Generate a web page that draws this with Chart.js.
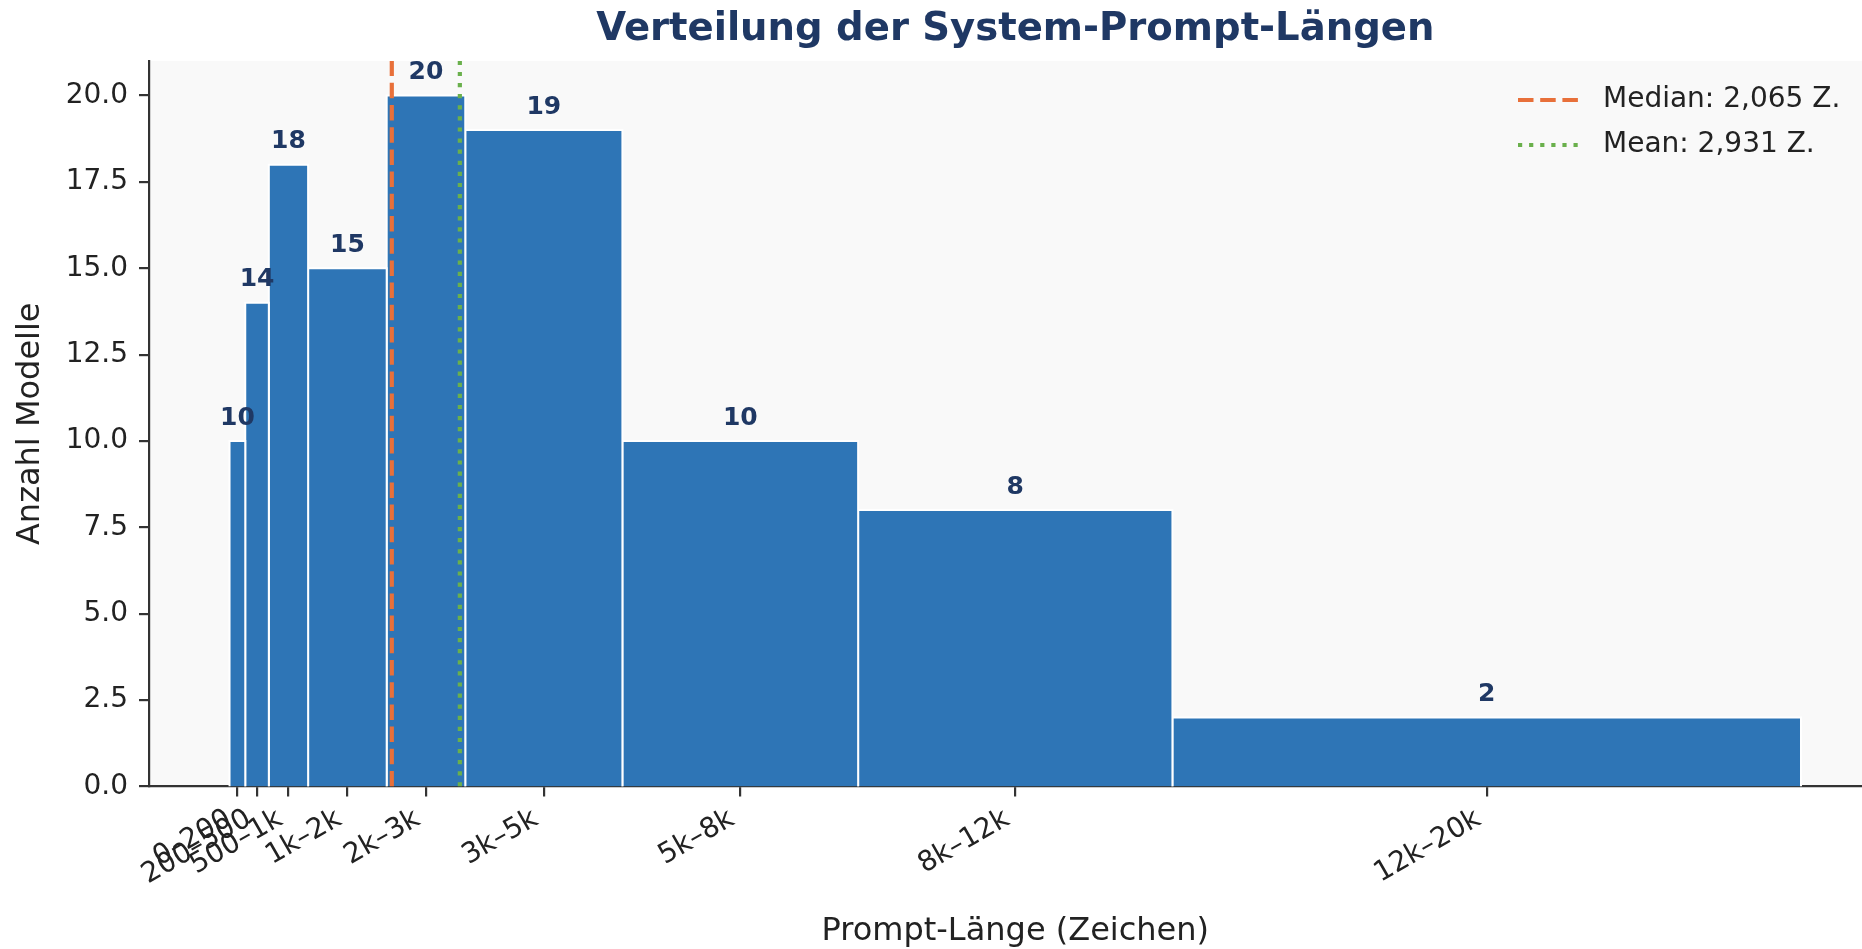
<!DOCTYPE html>
<html>
<head>
<meta charset="utf-8">
<title>Verteilung der System-Prompt-Längen</title>
<script src="https://cdn.jsdelivr.net/npm/chart.js@4.4.1/dist/chart.umd.min.js"></script>
<style>
    html, body { margin: 0; padding: 0; background: #fff; overflow: hidden; }
    #wrap { width: 1862px; height: 949px; position: relative; }
</style>
</head>
<body>
<div id="wrap"><canvas id="hist"></canvas></div>
<script>
// Histogram data (bins in characters)
const binEdges = [0, 200, 500, 1000, 2000, 3000, 5000, 8000, 12000, 20000];
const binLabels = ['0–200', '200–500', '500–1k', '1k–2k', '2k–3k', '3k–5k', '5k–8k', '8k–12k', '12k–20k'];
const counts = [10, 14, 18, 15, 20, 19, 10, 8, 2];
const yTickValues = [0, 2.5, 5, 7.5, 10, 12.5, 15, 17.5, 20];
const medianLen = 2065;
const meanLen = 2931;
const refLabels = ['Median: 2,065 Z.', 'Mean: 2,931 Z.'];

const colors = {
    bar: '#2e75b6',
    navy: '#1f3864',
    median: '#e8703a',
    mean: '#6ab04c',
    plotBg: '#f9f9f9',
    axis: '#333333',
    text: '#222222'
};

const fontFamily = "'DejaVu Sans', sans-serif";
Chart.defaults.font.family = fontFamily;

// one filled step shape per bin, so bins can have different widths
const barDatasets = counts.map((c, i) => ({
    type: 'line',
    label: binLabels[i],
    data: [
        { x: binEdges[i], y: 0 },
        { x: binEdges[i], y: c },
        { x: binEdges[i + 1], y: c },
        { x: binEdges[i + 1], y: 0 }
    ],
    fill: 'origin',
    backgroundColor: colors.bar,
    borderColor: '#ffffff',
    borderWidth: 2,
    pointRadius: 0,
    tension: 0,
    order: 2
}));

const medianDataset = {
    type: 'line',
    label: refLabels[0],
    data: [{ x: medianLen, y: 0 }, { x: medianLen, y: 21 }],
    borderColor: colors.median,
    borderWidth: 4.2,
    borderDash: [15.5, 6.7],
    borderCapStyle: 'butt',
    pointRadius: 0,
    fill: false,
    order: 0
};

const meanDataset = {
    type: 'line',
    label: refLabels[1],
    data: [{ x: meanLen, y: 0 }, { x: meanLen, y: 21 }],
    borderColor: colors.mean,
    borderWidth: 4.2,
    borderDash: [4.2, 6.9],
    borderCapStyle: 'butt',
    pointRadius: 0,
    fill: false,
    order: 0
};

// plot background, count labels, title, x label and legend
const decorPlugin = {
    id: 'decor',
    beforeDraw(chart) {
        const { ctx, chartArea: a } = chart;
        ctx.save();
        ctx.fillStyle = colors.plotBg;
        ctx.fillRect(a.left, a.top, a.right - a.left, a.bottom - a.top);
        ctx.restore();
    },
    afterDatasetsDraw(chart) {
        const { ctx } = chart;
        const xs = chart.scales.x, ys = chart.scales.y;
        ctx.save();
        ctx.fillStyle = colors.navy;
        ctx.font = 'bold 25px ' + fontFamily;
        ctx.textAlign = 'center';
        ctx.textBaseline = 'alphabetic';
        counts.forEach((c, i) => {
            const mid = (binEdges[i] + binEdges[i + 1]) / 2;
            ctx.fillText(String(c), xs.getPixelForValue(mid), ys.getPixelForValue(c) - 16.5);
        });
        ctx.restore();
    },
    afterDraw(chart) {
        const { ctx, chartArea: a } = chart;
        const xs = chart.scales.x;
        const cx = xs.getPixelForValue(10000);
        ctx.save();
        // title
        ctx.fillStyle = colors.navy;
        ctx.font = 'bold 38.6px ' + fontFamily;
        ctx.textAlign = 'center';
        ctx.textBaseline = 'alphabetic';
        ctx.fillText('Verteilung der System-Prompt-Längen', cx, 40);
        // x axis label
        ctx.fillStyle = colors.text;
        ctx.font = '32px ' + fontFamily;
        ctx.fillText('Prompt-Länge (Zeichen)', cx, 940);
        // legend
        const items = [
            { label: refLabels[0], color: colors.median, dash: [15.5, 6.7] },
            { label: refLabels[1], color: colors.mean, dash: [4.2, 6.9] }
        ];
        items.forEach((it, i) => {
            const y = a.top + 39 + i * 45;
            ctx.strokeStyle = it.color;
            ctx.lineWidth = 4.2;
            ctx.lineCap = 'butt';
            ctx.setLineDash(it.dash);
            ctx.beginPath();
            ctx.moveTo(a.right - 344, y);
            ctx.lineTo(a.right - 284, y);
            ctx.stroke();
            ctx.setLineDash([]);
            ctx.fillStyle = colors.text;
            ctx.font = '28px ' + fontFamily;
            ctx.textAlign = 'left';
            ctx.textBaseline = 'middle';
            ctx.fillText(it.label, a.right - 259, y);
        });
        ctx.restore();
    }
};

const ctx = document.getElementById('hist');
new Chart(ctx, {
    type: 'line',
    data: {
        datasets: [medianDataset, meanDataset].concat(barDatasets)
    },
    options: {
        responsive: true,
        maintainAspectRatio: false,
        animation: false,
        devicePixelRatio: 1,
        layout: { padding: { top: 61, left: 0, right: 0, bottom: 0 } },
        plugins: {
            legend: { display: false },
            tooltip: { enabled: false },
            title: { display: false }
        },
        scales: {
            x: {
                type: 'linear',
                min: -1025,
                max: 20776,
                z: 1,
                grid: {
                    display: true,
                    drawOnChartArea: false,
                    drawTicks: true,
                    tickLength: 10,
                    lineWidth: 2.2,
                    color: colors.axis
                },
                border: { display: true, color: colors.axis, width: 2.2 },
                ticks: {
                    autoSkip: false,
                    minRotation: 30,
                    maxRotation: 30,
                    padding: 6,
                    labelOffset: -8,
                    color: colors.text,
                    font: { size: 28 },
                    callback: (v, i) => binLabels[i]
                },
                afterBuildTicks: (scale) => {
                    scale.ticks = binLabels.map((_, i) => ({ value: (binEdges[i] + binEdges[i + 1]) / 2 }));
                },
                afterFit: (scale) => {
                    scale.height = 162.5;
                    scale.paddingLeft = 0;
                    scale.paddingRight = 0;
                }
            },
            y: {
                type: 'linear',
                min: 0,
                max: 21,
                z: 1,
                grid: {
                    display: true,
                    drawOnChartArea: false,
                    drawTicks: true,
                    tickLength: 10,
                    lineWidth: 2.2,
                    color: colors.axis
                },
                border: { display: true, color: colors.axis, width: 2.2 },
                ticks: {
                    padding: 11,
                    color: colors.text,
                    font: { size: 28 },
                    callback: (v) => Number(v).toFixed(1)
                },
                afterBuildTicks: (scale) => {
                    scale.ticks = yTickValues.map(v => ({ value: v }));
                },
                afterFit: (scale) => {
                    scale.width = 149;
                    scale.paddingTop = 0;
                    scale.paddingBottom = 0;
                },
                title: {
                    display: true,
                    text: 'Anzahl Modelle',
                    color: colors.text,
                    font: { size: 32 },
                    padding: { top: 11, bottom: 0 }
                }
            }
        }
    },
    plugins: [decorPlugin]
});
</script>
</body>
</html>
